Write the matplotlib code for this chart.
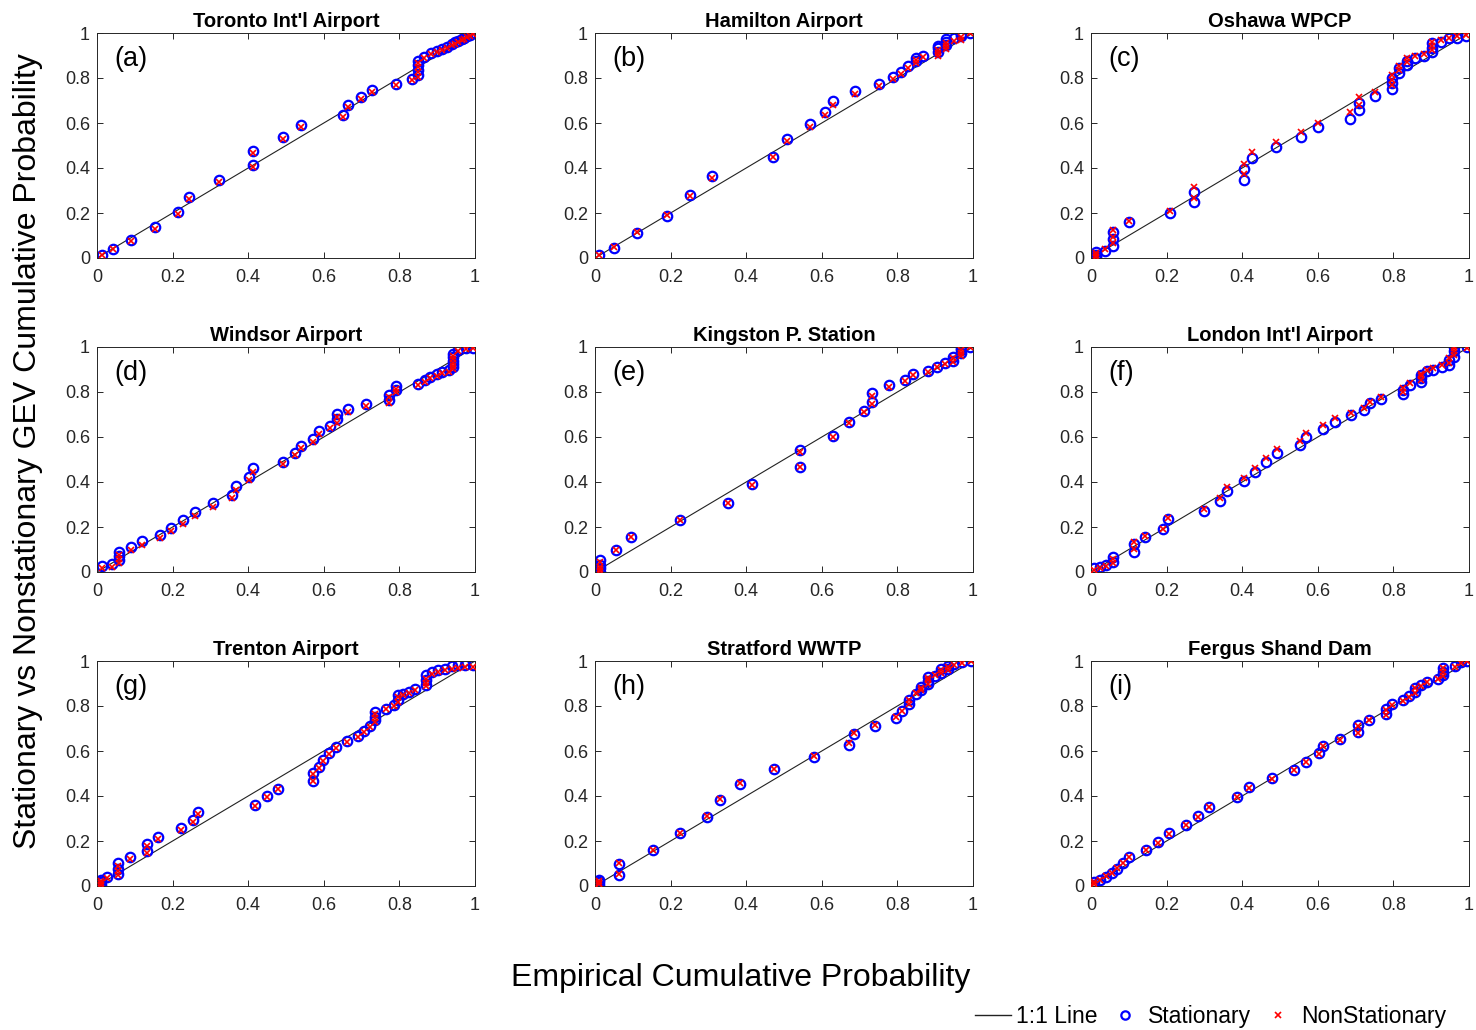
import matplotlib
matplotlib.use("Agg")
import matplotlib.pyplot as plt
from matplotlib.lines import Line2D

plt.rcParams['font.family'] = ['Liberation Sans', 'DejaVu Sans']

titles = ["Toronto Int'l Airport", "Hamilton Airport", "Oshawa WPCP",
          "Windsor Airport", "Kingston P. Station", "London Int'l Airport",
          "Trenton Airport", "Stratford WWTP", "Fergus Shand Dam"]
letters = ["(a)", "(b)", "(c)", "(d)", "(e)", "(f)", "(g)", "(h)", "(i)"]
ticks = [0, 0.2, 0.4, 0.6, 0.8, 1]
tick_labels = ["0", "0.2", "0.4", "0.6", "0.8", "1"]

# (a) Toronto
emp_a = [0.012, 0.043, 0.089, 0.153, 0.213, 0.244, 0.324, 0.414, 0.414, 0.493, 0.540, 0.652, 0.663,
         0.698, 0.727, 0.791, 0.834, 0.850, 0.850, 0.850, 0.850, 0.866, 0.883, 0.899, 0.912, 0.925,
         0.938, 0.947, 0.956, 0.965, 0.972, 0.980, 0.988, 0.996]
stat_a = [0.013, 0.040, 0.080, 0.136, 0.203, 0.273, 0.347, 0.413, 0.477, 0.536, 0.591, 0.636, 0.680,
          0.717, 0.748, 0.773, 0.796, 0.813, 0.836, 0.858, 0.876, 0.895, 0.910, 0.920, 0.930, 0.940,
          0.950, 0.958, 0.965, 0.972, 0.978, 0.985, 0.992, 0.998]
nons_a = [0.012, 0.038, 0.076, 0.130, 0.196, 0.262, 0.337, 0.404, 0.466, 0.528, 0.583, 0.626, 0.670,
          0.707, 0.738, 0.767, 0.789, 0.806, 0.828, 0.850, 0.866, 0.889, 0.905, 0.916, 0.925, 0.935,
          0.945, 0.952, 0.960, 0.967, 0.973, 0.981, 0.988, 0.997]

# (b) Hamilton
emp_b = [0.010, 0.051, 0.110, 0.191, 0.251, 0.309, 0.471, 0.509, 0.569, 0.609, 0.630, 0.689, 0.750,
         0.788, 0.810, 0.829, 0.850, 0.850, 0.869, 0.907, 0.907, 0.907, 0.929, 0.929, 0.929, 0.949,
         0.969, 0.969, 0.991]
stat_b = [0.013, 0.046, 0.110, 0.188, 0.280, 0.366, 0.449, 0.527, 0.594, 0.649, 0.699, 0.742, 0.775,
          0.803, 0.825, 0.852, 0.876, 0.890, 0.899, 0.917, 0.932, 0.944, 0.947, 0.961, 0.973, 0.976,
          0.986, 0.997, 0.999]
nons_b = [0.012, 0.050, 0.115, 0.192, 0.275, 0.356, 0.448, 0.520, 0.582, 0.634, 0.682, 0.727, 0.766,
          0.795, 0.818, 0.845, 0.867, 0.880, 0.893, 0.896, 0.910, 0.925, 0.930, 0.942, 0.955, 0.963,
          0.970, 0.983, 0.998]

# (c) Oshawa
emp_c = [0.012, 0.012, 0.012, 0.036, 0.058, 0.058, 0.058, 0.101, 0.209, 0.273, 0.273, 0.404, 0.404,
         0.426, 0.490, 0.556, 0.600, 0.684, 0.708, 0.708, 0.750, 0.795, 0.795, 0.795, 0.816, 0.816,
         0.836, 0.836, 0.858, 0.881, 0.903, 0.903, 0.903, 0.925, 0.947, 0.969, 0.991]
stat_c = [0.003, 0.013, 0.028, 0.033, 0.055, 0.084, 0.117, 0.159, 0.199, 0.247, 0.295, 0.347, 0.396,
          0.446, 0.493, 0.538, 0.581, 0.619, 0.656, 0.690, 0.720, 0.750, 0.776, 0.799, 0.821, 0.843,
          0.858, 0.877, 0.887, 0.899, 0.917, 0.935, 0.954, 0.961, 0.976, 0.979, 0.987]
nons_c = [0.004, 0.012, 0.024, 0.040, 0.066, 0.092, 0.124, 0.165, 0.210, 0.265, 0.315, 0.372, 0.418,
          0.470, 0.516, 0.560, 0.600, 0.647, 0.680, 0.714, 0.737, 0.770, 0.791, 0.812, 0.835, 0.853,
          0.869, 0.889, 0.900, 0.907, 0.925, 0.944, 0.962, 0.970, 0.980, 0.985, 0.990]

# (d) Windsor
emp_d = [0.012, 0.041, 0.059, 0.059, 0.059, 0.089, 0.120, 0.167, 0.196, 0.228, 0.260, 0.308, 0.356,
         0.368, 0.401, 0.414, 0.493, 0.525, 0.539, 0.571, 0.587, 0.616, 0.634, 0.634, 0.665, 0.712,
         0.773, 0.773, 0.790, 0.790, 0.850, 0.868, 0.881, 0.899, 0.914, 0.930, 0.943, 0.943, 0.943,
         0.943, 0.943, 0.956, 0.976, 0.996]
stat_d = [0.027, 0.036, 0.053, 0.071, 0.089, 0.110, 0.137, 0.166, 0.197, 0.231, 0.268, 0.305, 0.341,
          0.384, 0.424, 0.461, 0.490, 0.527, 0.560, 0.591, 0.627, 0.651, 0.679, 0.704, 0.726, 0.748,
          0.763, 0.788, 0.810, 0.825, 0.837, 0.852, 0.867, 0.878, 0.889, 0.896, 0.911, 0.925, 0.940,
          0.956, 0.970, 0.987, 0.996, 0.996]
nons_d = [0.017, 0.024, 0.040, 0.058, 0.075, 0.097, 0.122, 0.150, 0.182, 0.215, 0.250, 0.290, 0.327,
          0.365, 0.410, 0.446, 0.478, 0.518, 0.549, 0.579, 0.612, 0.639, 0.660, 0.688, 0.712, 0.736,
          0.752, 0.776, 0.798, 0.814, 0.830, 0.846, 0.860, 0.872, 0.883, 0.890, 0.901, 0.915, 0.930,
          0.947, 0.962, 0.980, 0.990, 0.994]

# (e) Kingston
emp_e = [0.012, 0.012, 0.012, 0.012, 0.056, 0.096, 0.225, 0.352, 0.415, 0.543, 0.543, 0.629, 0.671,
         0.711, 0.733, 0.733, 0.777, 0.819, 0.841, 0.882, 0.904, 0.925, 0.947, 0.947, 0.969, 0.969,
         0.969, 0.991]
stat_e = [0.001, 0.016, 0.030, 0.053, 0.098, 0.157, 0.231, 0.308, 0.391, 0.468, 0.542, 0.606, 0.668,
          0.717, 0.757, 0.797, 0.831, 0.853, 0.880, 0.895, 0.913, 0.927, 0.939, 0.954, 0.972, 0.985,
          0.997, 0.999]
nons_e = [0.005, 0.013, 0.024, 0.045, 0.097, 0.155, 0.229, 0.305, 0.387, 0.466, 0.532, 0.600, 0.662,
          0.713, 0.745, 0.784, 0.823, 0.847, 0.874, 0.890, 0.909, 0.923, 0.934, 0.950, 0.962, 0.975,
          0.988, 0.998]

# (f) London
emp_f = [0.008, 0.025, 0.041, 0.057, 0.057, 0.114, 0.114, 0.144, 0.191, 0.205, 0.299, 0.340, 0.359,
         0.404, 0.434, 0.462, 0.492, 0.553, 0.569, 0.613, 0.646, 0.689, 0.721, 0.737, 0.766, 0.826,
         0.826, 0.843, 0.874, 0.874, 0.874, 0.889, 0.904, 0.929, 0.947, 0.947, 0.960, 0.960, 0.960,
         0.996]
stat_f = [0.019, 0.024, 0.031, 0.046, 0.068, 0.089, 0.123, 0.154, 0.190, 0.234, 0.273, 0.317, 0.360,
          0.403, 0.446, 0.487, 0.527, 0.564, 0.601, 0.634, 0.668, 0.696, 0.720, 0.750, 0.767, 0.790,
          0.810, 0.833, 0.843, 0.862, 0.877, 0.892, 0.899, 0.910, 0.921, 0.943, 0.957, 0.980, 0.998,
          0.998]
nons_f = [0.008, 0.017, 0.025, 0.038, 0.057, 0.101, 0.133, 0.158, 0.192, 0.240, 0.280, 0.330, 0.376,
          0.420, 0.461, 0.506, 0.547, 0.583, 0.617, 0.652, 0.686, 0.708, 0.730, 0.754, 0.776, 0.800,
          0.820, 0.840, 0.855, 0.870, 0.882, 0.898, 0.905, 0.918, 0.930, 0.950, 0.965, 0.983, 0.995,
          0.997]

# (g) Trenton
emp_g = [0.011, 0.011, 0.011, 0.026, 0.056, 0.056, 0.056, 0.087, 0.131, 0.131, 0.162, 0.221, 0.253,
         0.268, 0.419, 0.449, 0.480, 0.571, 0.571, 0.586, 0.599, 0.615, 0.631, 0.661, 0.690, 0.707,
         0.722, 0.735, 0.735, 0.735, 0.764, 0.786, 0.795, 0.795, 0.810, 0.825, 0.841, 0.870, 0.870,
         0.870, 0.885, 0.903, 0.921, 0.938, 0.956, 0.974, 0.996]
stat_g = [0.006, 0.016, 0.027, 0.041, 0.053, 0.076, 0.101, 0.127, 0.154, 0.187, 0.219, 0.258, 0.293,
          0.327, 0.361, 0.399, 0.433, 0.468, 0.501, 0.530, 0.560, 0.590, 0.619, 0.643, 0.668, 0.690,
          0.713, 0.736, 0.753, 0.773, 0.788, 0.803, 0.825, 0.847, 0.855, 0.862, 0.877, 0.892, 0.914,
          0.936, 0.951, 0.959, 0.966, 0.976, 0.981, 0.981, 0.981]
nons_g = [0.005, 0.013, 0.024, 0.034, 0.047, 0.068, 0.088, 0.120, 0.146, 0.176, 0.210, 0.250, 0.285,
          0.320, 0.357, 0.395, 0.430, 0.465, 0.498, 0.525, 0.556, 0.586, 0.613, 0.640, 0.664, 0.686,
          0.708, 0.729, 0.746, 0.763, 0.785, 0.798, 0.817, 0.838, 0.850, 0.858, 0.872, 0.888, 0.903,
          0.922, 0.942, 0.950, 0.958, 0.966, 0.971, 0.973, 0.974]

# (h) Stratford
emp_h = [0.010, 0.010, 0.010, 0.063, 0.063, 0.153, 0.225, 0.295, 0.331, 0.384, 0.474, 0.580, 0.671,
         0.686, 0.741, 0.795, 0.813, 0.830, 0.830, 0.848, 0.863, 0.863, 0.881, 0.881, 0.881, 0.899,
         0.916, 0.916, 0.935, 0.935, 0.951, 0.971, 0.994]
stat_h = [0.006, 0.016, 0.027, 0.049, 0.098, 0.160, 0.234, 0.308, 0.382, 0.453, 0.520, 0.575, 0.627,
          0.676, 0.713, 0.747, 0.777, 0.807, 0.825, 0.852, 0.873, 0.884, 0.896, 0.913, 0.928, 0.935,
          0.945, 0.964, 0.964, 0.979, 0.986, 0.997, 0.998]
nons_h = [0.008, 0.015, 0.022, 0.054, 0.102, 0.162, 0.234, 0.310, 0.386, 0.458, 0.522, 0.580, 0.635,
          0.682, 0.717, 0.750, 0.780, 0.810, 0.827, 0.857, 0.870, 0.880, 0.900, 0.915, 0.925, 0.938,
          0.947, 0.958, 0.960, 0.975, 0.983, 0.993, 0.998]

# (i) Fergus
emp_i = [0.008, 0.008, 0.025, 0.041, 0.056, 0.070, 0.085, 0.101, 0.145, 0.178, 0.207, 0.251, 0.282,
         0.313, 0.387, 0.417, 0.479, 0.538, 0.569, 0.602, 0.614, 0.660, 0.706, 0.706, 0.736, 0.781,
         0.781, 0.797, 0.826, 0.841, 0.857, 0.857, 0.872, 0.890, 0.919, 0.932, 0.932, 0.932, 0.962,
         0.978, 0.996]
stat_i = [0.006, 0.016, 0.027, 0.041, 0.056, 0.076, 0.101, 0.130, 0.160, 0.194, 0.234, 0.273, 0.311,
          0.353, 0.397, 0.439, 0.479, 0.516, 0.553, 0.590, 0.624, 0.653, 0.683, 0.716, 0.740, 0.766,
          0.788, 0.807, 0.825, 0.843, 0.862, 0.882, 0.892, 0.907, 0.921, 0.936, 0.951, 0.970, 0.976,
          0.996, 0.998]
nons_i = [0.008, 0.016, 0.028, 0.043, 0.058, 0.078, 0.102, 0.127, 0.158, 0.191, 0.231, 0.270, 0.307,
          0.349, 0.394, 0.436, 0.476, 0.514, 0.551, 0.588, 0.621, 0.651, 0.680, 0.712, 0.738, 0.760,
          0.784, 0.804, 0.823, 0.841, 0.858, 0.878, 0.890, 0.905, 0.919, 0.934, 0.950, 0.968, 0.975,
          0.992, 0.998]

emp_all = [emp_a, emp_b, emp_c, emp_d, emp_e, emp_f, emp_g, emp_h, emp_i]
stat_all = [stat_a, stat_b, stat_c, stat_d, stat_e, stat_f, stat_g, stat_h, stat_i]
nons_all = [nons_a, nons_b, nons_c, nons_d, nons_e, nons_f, nons_g, nons_h, nons_i]

fig = plt.figure(figsize=(14.76, 10.30), dpi=100)

lefts = [97, 595, 1091]
tops = [33, 347, 661]
W, H = 378, 225
axis_col = '#262626'

for k in range(9):
    r, c = divmod(k, 3)
    ax = fig.add_axes([lefts[c] / 1476, 1 - (tops[r] + H) / 1030, W / 1476, H / 1030])
    ax.plot([0, 1], [0, 1], color='#222222', lw=0.8, zorder=1)
    ax.plot(emp_all[k], stat_all[k], 'o', ls='none', mfc='none', mec='#0000ff',
            ms=6.8, mew=1.6, zorder=2)
    ax.plot(emp_all[k], nons_all[k], 'x', ls='none', color='#ff0000',
            ms=4, mew=1.2, zorder=3)
    ax.set_xlim(0, 1)
    ax.set_ylim(0, 1)
    ax.set_xticks(ticks)
    ax.set_xticklabels(tick_labels)
    ax.set_yticks(ticks)
    ax.set_yticklabels(tick_labels)
    ax.tick_params(direction='in', length=4, width=0.7, top=True, right=True,
                   labelsize=13, colors=axis_col)
    ax.tick_params(axis='x', pad=8)
    ax.tick_params(axis='y', pad=5)
    for s in ax.spines.values():
        s.set_color(axis_col)
        s.set_linewidth(0.7)
    ax.set_title(titles[k], fontsize=14.5, fontweight='bold', pad=4, color='black')
    ax.text(0.045, 0.885, letters[k], transform=ax.transAxes, fontsize=19.5,
            va='center', ha='left')

fig.text(0.019, 0.562, "Stationary vs Nonstationary GEV Cumulative Probability",
         rotation=90, fontsize=23, ha='center', va='center')
fig.text(0.5015, 0.0505, "Empirical Cumulative Probability",
         fontsize=23, ha='center', va='center')

handles = [Line2D([], [], color='#222222', lw=1.0),
           Line2D([], [], marker='o', ls='none', mfc='none', mec='#0000ff', ms=6, mew=1.6),
           Line2D([], [], marker='x', ls='none', color='#ff0000', ms=5, mew=1.2)]
fig.legend(handles, ["1:1 Line", "Stationary", "NonStationary"], ncol=3,
           loc='lower right', bbox_to_anchor=(0.994, -0.018), frameon=False,
           fontsize=16.5, handlelength=1.6, handletextpad=0.2, columnspacing=0.4)

fig.savefig("out.png", dpi=100)
